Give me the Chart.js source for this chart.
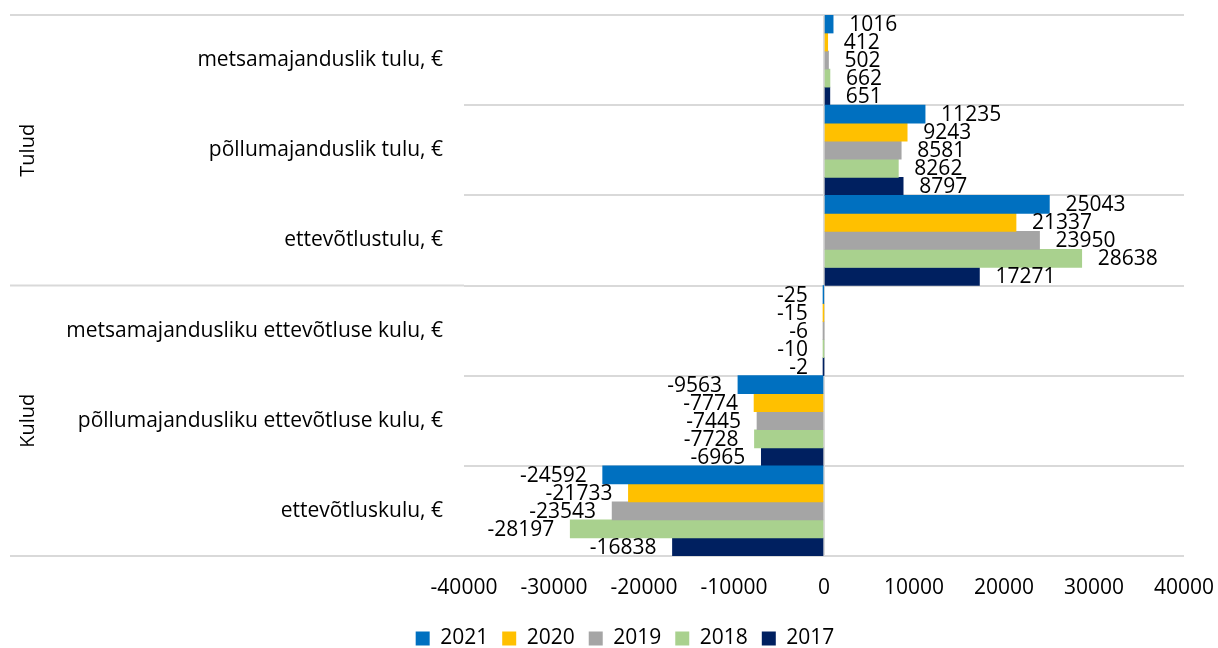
<!DOCTYPE html>
<html>
<head>
<meta charset="utf-8">
<script src="https://cdn.jsdelivr.net/npm/chart.js@4.4.1/dist/chart.umd.min.js"></script>
<style>
  html, body { margin: 0; padding: 0; background: #ffffff; }
  #wrap { width: 1218px; height: 648px; position: relative; }
</style>
</head>
<body>
<div id="wrap"><canvas id="c" width="1218" height="648"></canvas></div>
<script>
const categories = [
  'metsamajanduslik tulu, €',
  'põllumajanduslik tulu, €',
  'ettevõtlustulu, €',
  'metsamajandusliku ettevõtluse kulu, €',
  'põllumajandusliku ettevõtluse kulu, €',
  'ettevõtluskulu, €'
];
const groups = ['Tulud', 'Kulud'];
const groupSizes = [3, 3];
const seriesNames = ['2021', '2020', '2019', '2018', '2017'];
const v2021 = [1016, 11235, 25043, -25, -9563, -24592];
const v2020 = [412, 9243, 21337, -15, -7774, -21733];
const v2019 = [502, 8581, 23950, -6, -7445, -23543];
const v2018 = [662, 8262, 28638, -10, -7728, -28197];
const v2017 = [651, 8797, 17271, -2, -6965, -16838];
const xTicks = [-40000, -30000, -20000, -10000, 0, 10000, 20000, 30000, 40000];

const seriesValues = [v2021, v2020, v2019, v2018, v2017];
const colors = ['#0070C0', '#FFC000', '#A5A5A5', '#A9D18E', '#002060'];
const FONT = "'Open Sans', 'Noto Sans', sans-serif";
const GRID = '#D9D9D9';

const valueLabels = {
  id: 'valueLabels',
  afterDatasetsDraw(chart) {
    const ctx = chart.ctx;
    ctx.save();
    ctx.font = '21px ' + FONT;
    ctx.fillStyle = '#000';
    ctx.textBaseline = 'middle';
    chart.data.datasets.forEach((ds, di) => {
      const meta = chart.getDatasetMeta(di);
      meta.data.forEach((el, i) => {
        const v = ds.data[i];
        if (v >= 0) { ctx.textAlign = 'left'; ctx.fillText(String(v), el.x + 16, el.y + 1); }
        else { ctx.textAlign = 'right'; ctx.fillText(String(v), el.x - 16, el.y + 1); }
      });
    });
    ctx.restore();
  }
};

const groupAxis = {
  id: 'groupAxis',
  afterLayout(chart) {
    const l = chart.legend;
    if (l) {
      const dx = 625 - (l.left + l.right) / 2;
      l.left += dx; l.right += dx;
      l.top += 11; l.bottom += 11;
    }
  },
  afterDraw(chart) {
    const ctx = chart.ctx;
    const y = chart.scales.y;
    const area = chart.chartArea;
    ctx.save();
    ctx.strokeStyle = GRID;
    ctx.lineWidth = 2;
    let start = 0;
    const bounds = [area.top];
    groupSizes.forEach(n => { start += n; bounds.push(y.getPixelForValue(start - 0.5)); });
    bounds[bounds.length - 1] = area.bottom;
    bounds.forEach(py => {
      ctx.beginPath(); ctx.moveTo(10, py); ctx.lineTo(area.left, py); ctx.stroke();
    });
    ctx.fillStyle = '#000';
    ctx.font = '20px ' + FONT;
    ctx.textAlign = 'center';
    ctx.textBaseline = 'middle';
    for (let g = 0; g < groups.length; g++) {
      const cy = (bounds[g] + bounds[g + 1]) / 2;
      ctx.save();
      ctx.translate(28, cy);
      ctx.rotate(-Math.PI / 2);
      ctx.fillText(groups[g], 0, 0);
      ctx.restore();
    }
    ctx.restore();
  }
};

new Chart(document.getElementById('c'), {
  type: 'bar',
  data: {
    labels: categories,
    datasets: seriesNames.map((n, i) => ({
      label: n,
      data: seriesValues[i],
      backgroundColor: colors[i],
      borderWidth: 0,
      categoryPercentage: 1.0,
      barPercentage: 1.0
    }))
  },
  options: {
    indexAxis: 'y',
    responsive: false,
    animation: false,
    devicePixelRatio: 1,
    layout: { padding: { top: 15, right: 34, left: 0, bottom: 0 } },
    plugins: {
      legend: {
        position: 'bottom',
        labels: {
          boxWidth: 14, boxHeight: 14, padding: 14,
          color: '#000', font: { family: FONT, size: 21 }
        }
      },
      tooltip: { enabled: false }
    },
    scales: {
      x: {
        min: -40000, max: 40000,
        afterBuildTicks(s) { s.ticks = xTicks.map(v => ({ value: v })); },
        afterFit(s) { s.height = 47; s.paddingRight = 0; s.paddingLeft = 0; },
        grid: {
          drawTicks: false,
          color: c => (c.tick && c.tick.value === 0 ? GRID : 'rgba(0,0,0,0)'),
          lineWidth: 2
        },
        border: { display: false },
        ticks: {
          padding: 19, color: '#000', font: { family: FONT, size: 21 },
          callback: v => String(v), maxRotation: 0, autoSkip: false
        }
      },
      y: {
        afterFit(s) { s.width = 464; s.paddingTop = 0; s.paddingBottom = 0; },
        grid: { drawTicks: false, color: GRID, lineWidth: 2, offset: true },
        border: { display: false },
        ticks: { padding: 21, color: '#000', font: { family: FONT, size: 21 } }
      }
    }
  },
  plugins: [valueLabels, groupAxis]
});
</script>
</body>
</html>
